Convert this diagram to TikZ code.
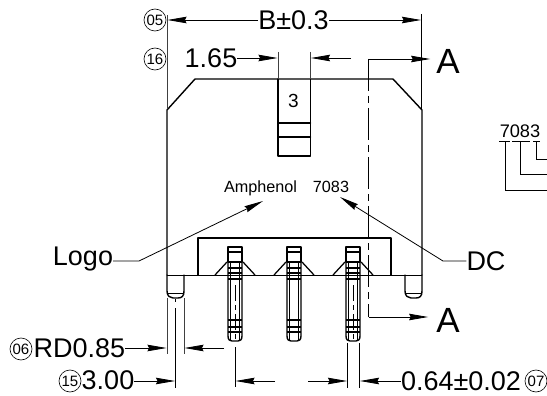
\documentclass[tikz,border=0pt]{standalone}
\usepackage{fontspec}
\setmainfont{Liberation Sans}
\usetikzlibrary{arrows.meta}
\tikzset{
  outline/.style={line width=1.4pt,black,line cap=round,line join=round},
  pinl/.style={line width=1.25pt,black},
  thinl/.style={line width=0.8pt,black},
  ext/.style={line width=0.8pt,black!75},
  dim/.style={line width=0.8pt,black,-{Stealth[length=19pt,width=6.5pt,inset=1.5pt]}},
  big/.style={inner sep=0pt,anchor=base,font=\fontsize{27}{27}\selectfont},
  small/.style={inner sep=0pt,anchor=base,font=\fontsize{16.2}{16}\selectfont},
  circled/.style={circle,draw,line width=0.6pt,minimum size=22pt,inner sep=0pt,font=\fontsize{15}{15}\selectfont},
}
\begin{document}
\begin{tikzpicture}[x=1pt,y=-1pt]
\useasboundingbox (0,0) rectangle (547,396);
% body
\draw[outline] (167,275) -- (167,110) -- (195,79) -- (393,79) -- (422,110) -- (422,275);
\draw[line width=1pt] (167,275) -- (422,275);
\draw[outline] (198,275) -- (198,238) -- (391,238) -- (391,275);
% tab
\draw[outline] (278,79) -- (278,156) -- (310.5,156) -- (310.5,79);
\draw[outline] (278,123) -- (310.5,123) (278,137) -- (310.5,137);
\node[small,font=\fontsize{19}{19}\selectfont] (n3) at (293.5,108) {3};
% pegs
\draw[outline] (167,275) -- (167,291) .. controls (167,296) and (170,298) .. (173,298) -- (178,298) .. controls (182,298) and (184,296) .. (184,291) -- (184,275);
\draw[thinl] (168,293) -- (183,293);
\draw[outline] (405,275) -- (405,291) .. controls (405,296) and (408,298) .. (411,298) -- (416,298) .. controls (420,298) and (422,296) .. (422,291) -- (422,275);
\draw[thinl] (406,293) -- (421,293);
% pins
\foreach \c in {235,294,353}{
  \begin{scope}[shift={(\c,0)}]
    \draw[pinl] (-8,262) -- (-20,275) (8,262) -- (20,275);
    \draw[outline] (-7,262) -- (-7,247) -- (7,247) -- (7,262);
    \draw[pinl] (-7,252) -- (7,252) (-7,262) -- (7,262);
    \draw[outline] (-7,262) -- (-7,336) .. controls (-7,340) and (-5,341) .. (-3,341) -- (3,341) .. controls (5,341) and (7,340) .. (7,336) -- (7,262);
    \draw[pinl] (-4.5,262) -- (-4.5,341) (4.5,262) -- (4.5,341);
    \draw[pinl] (-7,268) -- (7,268) (-7,273) -- (7,273) (-7,279) -- (7,279)
      (-7,320) -- (7,320) (-7,327) -- (7,327) (-7,332) -- (7,332);
  \end{scope}
}
% pin centre lines
\draw[thinl,dash pattern=on 16pt off 4pt on 5pt off 4pt] (235,285) -- (235,342);
\draw[thinl,dash pattern=on 16pt off 4pt on 5pt off 4pt] (353,285) -- (353,342);
% peg centre
\draw[thinl,dash pattern=on 3pt off 6pt on 80pt] (175.5,299) -- (175.5,388);
% texts
\node[big] (b) at (293.5,30) {B±0.3};
\node[big] (d165) at (211,68) {1.65};
\node[circled] (c05) at (155,20) {05};
\node[circled] (c16) at (155,59) {16};
\node[small] (amph) at (260.5,193) {Amphenol};
\node[small] (dc7083) at (331,193) {7083};
\node[big] (logo) at (83,265) {Logo};
\node[big] (dc) at (486,270) {DC};
\node[big,font=\fontsize{35}{35}\selectfont] (a1) at (448,74) {A};
\node[big,font=\fontsize{35}{35}\selectfont] (a2) at (448,332) {A};
\node[big] (rd) at (79.5,357) {RD0.85};
\node[circled] (c06) at (21,349) {06};
\node[big] (t300) at (108,389) {3.00};
\node[circled] (c15) at (70,381) {15};
\node[big] (t064) at (461,390) {0.64±0.02};
\node[circled] (c07) at (536,381) {07};
\node[inner sep=0pt,anchor=base,font=\fontsize{18.2}{18}\selectfont] (r7083) at (520,138) {7083};
% extension lines
\draw[ext] (167,15) -- (167,108);
\draw[thinl] (421.5,14) -- (421.5,110);
\draw[ext] (278,52) -- (278,79);
\draw[ext] (310.5,52) -- (310.5,79);
\draw[ext] (167,298) -- (167,354);
\draw[ext] (184,298) -- (184,354);
\draw[thinl] (235,347) -- (235,387);
\draw[thinl] (347.5,343) -- (347.5,388);
\draw[thinl] (359.5,343) -- (359.5,388);
% dimensions
\coordinate (bl) at (167.5,20);
\coordinate (br) at (421,20);
\draw[dim] (b.west |- bl) -- (bl);
\draw[dim] (b.east |- br) -- (br);
\coordinate (e1) at (277.5,58);
\coordinate (e2) at (311,58);
\coordinate (e2s) at (351,58);
\draw[dim] (d165.east |- e1) -- (e1);
\draw[dim] (e2s) -- (e2);
% section line
\coordinate (st) at (368.5,59);
\coordinate (sb) at (368.5,317);
\draw[thinl,dash pattern=on 32pt off 5pt on 7pt off 5pt] (st) -- (sb);
\draw[dim] (st) -- ([xshift=-6pt]a1.west |- st);
\draw[dim] (sb) -- ([xshift=-8pt]a2.west |- sb);
% leaders
\coordinate (lk) at (139,261);
\coordinate (lt) at (263,201);
\draw[dim] (logo.east |- lk) -- (lk) -- (lt);
\coordinate (dk) at (443,261);
\coordinate (dt) at (340,197);
\draw[dim] (dc.west |- dk) -- (dk) -- (dt);
% lower dimensions
\coordinate (r1) at (166.5,348);
\coordinate (r2) at (184.5,348);
\coordinate (r2s) at (224,348);
\draw[dim] (rd.east |- r1) -- (r1);
\draw[dim] (r2s) -- (r2);
\coordinate (t1) at (175,381);
\coordinate (t2) at (235.5,381);
\coordinate (t2s) at (275,381);
\coordinate (t3) at (347,381);
\coordinate (t3s) at (308,381);
\coordinate (t4) at (360,381);
\draw[dim] (t300.east |- t1) -- (t1);
\draw[dim] (t2s) -- (t2);
\draw[dim] (t3s) -- (t3);
\draw[dim] (t064.west |- t4) -- (t4);
% date code key
\draw[thinl] (499,141.5) -- (510,141.5) (512,141.5) -- (530,141.5) (533,141.5) -- (540,141.5);
\coordinate (k1) at (505,141.5);
\coordinate (k2) at (520.5,141.5);
\coordinate (k3) at (536,141.5);
\draw[thinl] (k1) |- (547,190);
\draw[thinl] (k2) |- (547,174);
\draw[thinl] (k3) |- (547,159);
\end{tikzpicture}
\end{document}
